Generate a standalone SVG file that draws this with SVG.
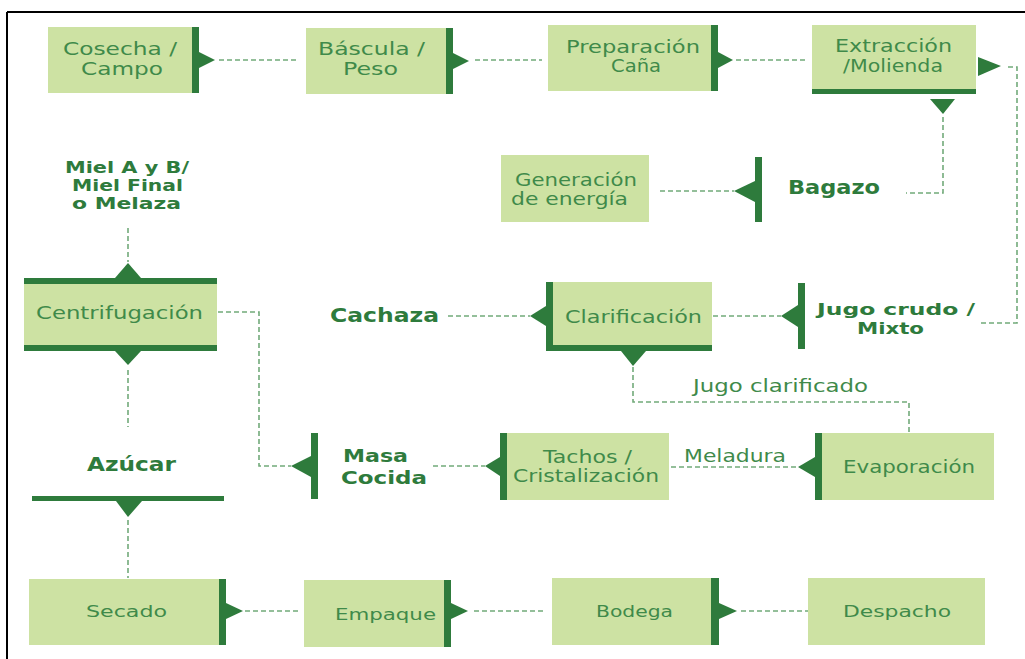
<svg xmlns="http://www.w3.org/2000/svg" width="1025" height="659" viewBox="0 0 1025 659">
<style>
.box{fill:#cde2a3}
.dk{fill:#2e7b3c}
.dash{fill:none;stroke:#72aa7a;stroke-width:1.6;stroke-dasharray:5 3}
.t{font-family:"DejaVu Sans",sans-serif;font-size:17px;fill:#3f8a4a}
.s{font-family:"DejaVu Sans",sans-serif;font-size:16px;fill:#3f8a4a}
.b{font-family:"DejaVu Sans",sans-serif;font-size:20px;font-weight:bold;fill:#2e7b3c}
.b2{font-family:"DejaVu Sans",sans-serif;font-size:16px;font-weight:bold;fill:#2e7b3c}
.b3{font-family:"DejaVu Sans",sans-serif;font-size:18px;font-weight:bold;fill:#2e7b3c}
</style>
<rect width="1025" height="659" fill="#ffffff"/>
<g id="frame" stroke="#000" stroke-width="2" fill="none">
<line x1="7" y1="12" x2="1025" y2="12"/>
<line x1="7" y1="12" x2="7" y2="659"/>
</g>
<g id="connectors">
<line class="dash" x1="219" y1="60" x2="299" y2="60"/>
<line class="dash" x1="475" y1="60" x2="542" y2="60"/>
<line class="dash" x1="736" y1="60" x2="806" y2="60"/>
<polyline class="dash" points="1008,67 1017,67 1017,323 980,323"/>
<polyline class="dash" points="943,117 943,193 906,193"/>
<line class="dash" x1="660" y1="191" x2="734" y2="191"/>
<line class="dash" x1="713" y1="316" x2="781" y2="316"/>
<line class="dash" x1="448" y1="316" x2="530" y2="316"/>
<polyline class="dash" points="633,367 633,402 909,402 909,432"/>
<line class="dash" x1="671" y1="467" x2="797" y2="467"/>
<line class="dash" x1="433" y1="466" x2="485" y2="466"/>
<polyline class="dash" points="218,312 259,312 259,466 291,466"/>
<line class="dash" x1="128" y1="228" x2="128" y2="262"/>
<line class="dash" x1="128" y1="370" x2="128" y2="427"/>
<line class="dash" x1="128" y1="520" x2="128" y2="578"/>
<line class="dash" x1="245" y1="611" x2="301" y2="611"/>
<line class="dash" x1="474" y1="611" x2="545" y2="611"/>
<line class="dash" x1="741" y1="611" x2="808" y2="611"/>
<text class="t" x="693" y="392" textLength="175" lengthAdjust="spacingAndGlyphs">Jugo clarificado</text>
<text class="t" x="684" y="462" textLength="102" lengthAdjust="spacingAndGlyphs">Meladura</text>
</g>
<g id="cosecha">
<rect class="box" x="48" y="27" width="144" height="66"/>
<rect class="dk" x="192" y="27" width="7" height="66"/>
<polygon class="dk" points="199,52 215,60 199,68"/>
<text class="t" x="63" y="55" textLength="114" lengthAdjust="spacingAndGlyphs">Cosecha /</text>
<text class="t" x="81" y="75" textLength="82" lengthAdjust="spacingAndGlyphs">Campo</text>
</g>
<g id="bascula">
<rect class="box" x="306" y="28" width="140" height="66"/>
<rect class="dk" x="446" y="28" width="7" height="66"/>
<polygon class="dk" points="453,53 469,61 453,69"/>
<text class="t" x="318" y="55" textLength="107" lengthAdjust="spacingAndGlyphs">Báscula /</text>
<text class="t" x="343" y="75" textLength="55" lengthAdjust="spacingAndGlyphs">Peso</text>
</g>
<g id="preparacion">
<rect class="box" x="548" y="25" width="163" height="66"/>
<rect class="dk" x="711" y="25" width="7" height="66"/>
<polygon class="dk" points="718,52 733,60 718,68"/>
<text class="t" x="566" y="53" textLength="134" lengthAdjust="spacingAndGlyphs">Preparación</text>
<text class="t" x="611" y="72" textLength="50" lengthAdjust="spacingAndGlyphs">Caña</text>
</g>
<g id="extraccion">
<rect class="box" x="812" y="25" width="164" height="64"/>
<rect class="dk" x="812" y="89" width="164" height="5"/>
<polygon class="dk" points="978,57 1001,66 978,76"/>
<polygon class="dk" points="930,99 955,99 943,114"/>
<text class="t" x="835" y="52" textLength="117" lengthAdjust="spacingAndGlyphs">Extracción</text>
<text class="t" x="843" y="72" textLength="100" lengthAdjust="spacingAndGlyphs">/Molienda</text>
</g>
<g id="generacion">
<rect class="box" x="501" y="155" width="148" height="67"/>
<text class="t" x="515" y="186" textLength="122" lengthAdjust="spacingAndGlyphs">Generación</text>
<text class="t" x="511" y="205" textLength="117" lengthAdjust="spacingAndGlyphs">de energía</text>
</g>
<g id="bagazo">
<rect class="dk" x="755" y="157" width="7" height="65"/>
<polygon class="dk" points="755,181 734,191 755,202"/>
<text class="b" x="788" y="194" textLength="92" lengthAdjust="spacingAndGlyphs">Bagazo</text>
</g>
<g id="jugo-crudo">
<rect class="dk" x="798" y="283" width="7" height="66"/>
<polygon class="dk" points="798,305 781,316 798,327"/>
<text class="b2" x="817" y="315" textLength="158" lengthAdjust="spacingAndGlyphs">Jugo crudo /</text>
<text class="b2" x="857" y="334" textLength="67" lengthAdjust="spacingAndGlyphs">Mixto</text>
</g>
<g id="clarificacion">
<rect class="box" x="553" y="282" width="159" height="63"/>
<rect class="dk" x="546" y="282" width="7" height="69"/>
<rect class="dk" x="546" y="345" width="166" height="6"/>
<polygon class="dk" points="546,306 530,316 546,326"/>
<polygon class="dk" points="621,351 646,351 633,366"/>
<text class="t" x="565" y="323" textLength="137" lengthAdjust="spacingAndGlyphs">Clarificación</text>
</g>
<g id="cachaza">
<text class="b" x="330" y="322" textLength="109" lengthAdjust="spacingAndGlyphs">Cachaza</text>
</g>
<g id="evaporacion">
<rect class="box" x="822" y="433" width="172" height="67"/>
<rect class="dk" x="815" y="433" width="7" height="67"/>
<polygon class="dk" points="815,457 798,467 815,477"/>
<text class="t" x="843" y="473" textLength="132" lengthAdjust="spacingAndGlyphs">Evaporación</text>
</g>
<g id="tachos">
<rect class="box" x="507" y="433" width="162" height="67"/>
<rect class="dk" x="500" y="433" width="7" height="67"/>
<polygon class="dk" points="500,457 485,466 500,476"/>
<text class="t" x="543" y="463" textLength="89" lengthAdjust="spacingAndGlyphs">Tachos /</text>
<text class="t" x="513" y="482" textLength="146" lengthAdjust="spacingAndGlyphs">Cristalización</text>
</g>
<g id="masa-cocida">
<rect class="dk" x="311" y="433" width="7" height="66"/>
<polygon class="dk" points="311,456 291,466 311,477"/>
<text class="b3" x="343" y="462" textLength="65" lengthAdjust="spacingAndGlyphs">Masa</text>
<text class="b3" x="341" y="484" textLength="86" lengthAdjust="spacingAndGlyphs">Cocida</text>
</g>
<g id="centrifugacion">
<rect class="box" x="24" y="284" width="193" height="61"/>
<rect class="dk" x="24" y="278" width="193" height="6"/>
<rect class="dk" x="24" y="345" width="193" height="6"/>
<polygon class="dk" points="115,278 141,278 128,263"/>
<polygon class="dk" points="115,351 141,351 128,365"/>
<text class="t" x="36" y="319" textLength="167" lengthAdjust="spacingAndGlyphs">Centrifugación</text>
</g>
<g id="miel">
<text class="b2" x="65" y="173" textLength="124" lengthAdjust="spacingAndGlyphs">Miel A y B/</text>
<text class="b2" x="72" y="191" textLength="111" lengthAdjust="spacingAndGlyphs">Miel Final</text>
<text class="b2" x="72" y="209" textLength="109" lengthAdjust="spacingAndGlyphs">o Melaza</text>
</g>
<g id="azucar">
<text class="b" x="87" y="471" textLength="89" lengthAdjust="spacingAndGlyphs">Azúcar</text>
<rect class="dk" x="32" y="496" width="192" height="5"/>
<polygon class="dk" points="116,501 142,501 128,517"/>
</g>
<g id="secado">
<rect class="box" x="29" y="579" width="191" height="66"/>
<rect class="dk" x="219" y="579" width="7" height="66"/>
<polygon class="dk" points="226,603 243,611 226,619"/>
<text class="s" x="86" y="617" textLength="81" lengthAdjust="spacingAndGlyphs">Secado</text>
</g>
<g id="empaque">
<rect class="box" x="304" y="580" width="140" height="67"/>
<rect class="dk" x="444" y="580" width="7" height="67"/>
<polygon class="dk" points="451,603 468,611 451,619"/>
<text class="s" x="335" y="620" textLength="101" lengthAdjust="spacingAndGlyphs">Empaque</text>
</g>
<g id="bodega">
<rect class="box" x="552" y="578" width="159" height="67"/>
<rect class="dk" x="711" y="578" width="8" height="67"/>
<polygon class="dk" points="719,603 737,611 719,619"/>
<text class="s" x="596" y="617" textLength="77" lengthAdjust="spacingAndGlyphs">Bodega</text>
</g>
<g id="despacho">
<rect class="box" x="808" y="578" width="177" height="67"/>
<text class="s" x="843" y="617" textLength="108" lengthAdjust="spacingAndGlyphs">Despacho</text>
</g>
</svg>
